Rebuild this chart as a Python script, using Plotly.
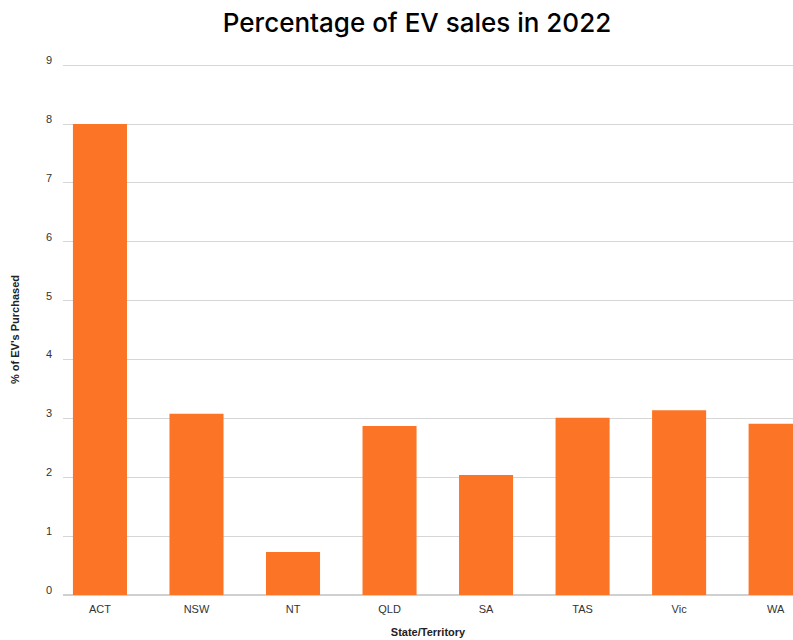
import plotly.graph_objects as go

states = ["ACT", "NSW", "NT", "QLD", "SA", "TAS", "Vic", "WA"]
ev_share = [8.0, 3.08, 0.73, 2.87, 2.04, 3.01, 3.14, 2.91]
y_ticks = [0, 1, 2, 3, 4, 5, 6, 7, 8, 9]

bar_color = "#FC7527"
font_family = "Liberation Sans, Arial, sans-serif"

fig = go.Figure(
    go.Bar(
        x=states,
        y=ev_share,
        marker=dict(color=bar_color, line=dict(width=0)),
        width=0.56,
    )
)

fig.update_layout(
    width=793,
    height=640,
    margin=dict(l=63, r=0, t=64, b=45),
    paper_bgcolor="white",
    plot_bgcolor="white",
    font=dict(family=font_family, color="#333333", size=11),
    showlegend=False,
    title=dict(
        text="Percentage of EV sales in 2022",
        x=417 / 793,
        xanchor="center",
        y=1 - 23 / 640,
        yanchor="middle",
        font=dict(size=26, color="#000000", family="Inter, sans-serif", weight=500),
    ),
)

fig.update_xaxes(
    range=[-0.383, 7.18],
    showgrid=False,
    showline=False,
    ticks="",
    ticklabelstandoff=6,
    tickfont=dict(size=11, color="#333333"),
    title=dict(text="<b>State/Territory</b>", font=dict(size=11, color="#222222"), standoff=14),
)

fig.update_yaxes(
    range=[0, 9.02],
    tickvals=y_ticks,
    showgrid=True,
    gridcolor="#d6d6d6",
    gridwidth=1,
    zeroline=True,
    zerolinecolor="#d0d0d0",
    zerolinewidth=1.5,
    showline=False,
    ticks="",
    ticklabelstandoff=10,
    ticklabelshift=-5,
    tickfont=dict(size=11, color="#333333"),
    title=dict(text="<b>% of EV's Purchased</b>", font=dict(size=11, color="#222222"), standoff=24),
)

fig.write_html("out.html")
